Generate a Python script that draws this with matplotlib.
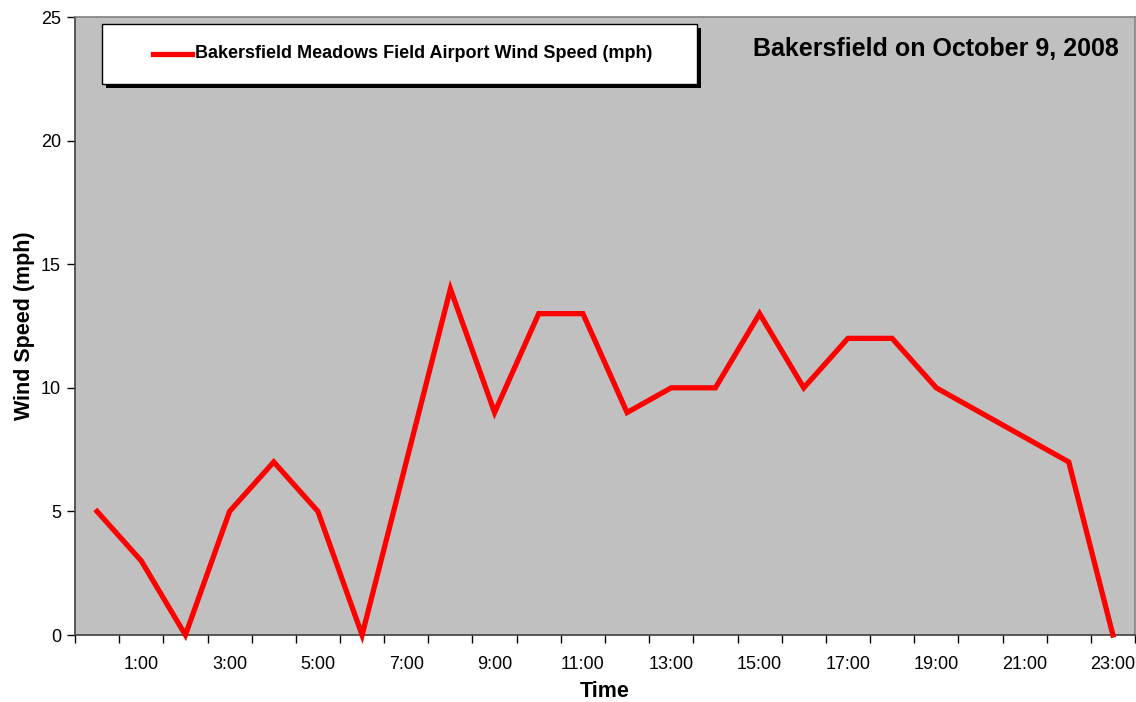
import matplotlib
matplotlib.use("Agg")
import matplotlib.pyplot as plt
from matplotlib.patches import Rectangle
from matplotlib.lines import Line2D

plt.rcParams['font.family'] = ['Liberation Sans', 'DejaVu Sans']

hours = ["0:00", "1:00", "2:00", "3:00", "4:00", "5:00", "6:00", "7:00",
         "8:00", "9:00", "10:00", "11:00", "12:00", "13:00", "14:00", "15:00",
         "16:00", "17:00", "18:00", "19:00", "20:00", "21:00", "22:00", "23:00"]
wind_mph = [5, 3, 0, 5, 7, 5, 0, 7, 14, 9, 13, 13, 9, 10, 10, 13,
            10, 12, 12, 10, 9, 8, 7, 0]
series_name = "Bakersfield Meadows Field Airport Wind Speed (mph)"
title = "Bakersfield on October 9, 2008"
y_ticks = [0, 5, 10, 15, 20, 25]

W, H = 1136, 702
fig = plt.figure(figsize=(W / 100, H / 100), dpi=100)
fig.patch.set_facecolor("white")

def fx(px):
    return px / W

def fy(py):
    return 1 - py / H

left, right, top, bottom = 75, 1135, 17, 635
ax = fig.add_axes([fx(left), fy(bottom), fx(right - left), (bottom - top) / H])
ax.set_facecolor("#C0C0C0")

x = list(range(len(hours)))
ax.plot(x, wind_mph, color="#FF0000", lw=3.8, solid_joinstyle="miter",
        clip_on=False, zorder=3)

ax.set_xlim(-0.5, len(hours) - 0.5)
ax.set_ylim(0, 25)
ax.set_yticks(y_ticks)
ax.set_yticklabels([str(v) for v in y_ticks], fontsize=13)

# category boundaries as major ticks, labels on odd categories
ax.set_xticks([i - 0.5 for i in range(len(hours) + 1)])
ax.set_xticklabels([])
ax.set_xticks(x[1::2], minor=True)
ax.set_xticklabels(hours[1::2], minor=True, fontsize=13)
ax.tick_params(axis="x", which="minor", length=0, pad=15)
ax.tick_params(axis="x", which="major", length=6, width=1, color="black", direction="out")
ax.tick_params(axis="y", length=6, width=1, color="black", direction="out", pad=4)

for s in ["left", "bottom"]:
    ax.spines[s].set_color("#404040")
    ax.spines[s].set_linewidth(1.2)
for s in ["top", "right"]:
    ax.spines[s].set_color("#808080")
    ax.spines[s].set_linewidth(1.2)

ax.set_xlabel("Time", fontsize=15.5, fontweight="bold", labelpad=6)
ax.set_ylabel("Wind Speed (mph)", fontsize=15.5, fontweight="bold", labelpad=4)

ax.text(0.985, 0.949, title, transform=ax.transAxes, ha="right", va="center",
        fontsize=18, fontweight="bold", color="black")

# legend box with shadow
lx0, lx1, ly0, ly1 = 102, 697, 24, 84
fig.add_artist(Rectangle((fx(lx0 + 4), fy(ly1 + 4)), fx(lx1 - lx0), (ly1 - ly0) / H,
                         transform=fig.transFigure, facecolor="black",
                         edgecolor="none", zorder=5))
fig.add_artist(Rectangle((fx(lx0), fy(ly1)), fx(lx1 - lx0), (ly1 - ly0) / H,
                         transform=fig.transFigure, facecolor="white",
                         edgecolor="black", lw=1.0, zorder=6))
ym = fy((ly0 + ly1) / 2)
fig.add_artist(Line2D([fx(153), fx(192)], [ym, ym], transform=fig.transFigure,
                      color="#FF0000", lw=3.8, zorder=7))
fig.text(fx(195), ym, series_name, ha="left", va="center", fontsize=13,
         fontweight="bold", zorder=7)

fig.savefig("out.png", dpi=100)
